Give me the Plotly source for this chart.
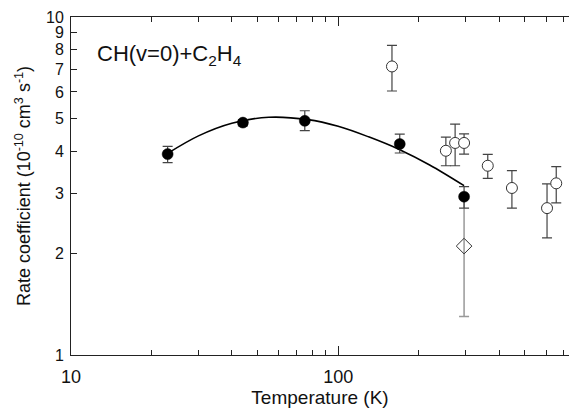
import plotly.graph_objects as go

# This work (filled circles)
t_this = [23, 44, 75, 170, 296]
k_this = [3.93, 4.87, 4.93, 4.21, 2.94]
k_this_hi = [4.14, 4.97, 5.28, 4.50, 3.15]
k_this_lo = [3.71, 4.76, 4.61, 3.96, 2.72]

# Literature (open circles)
t_lit = [159, 253, 274, 296, 363, 447, 605, 655]
k_lit = [7.14, 4.02, 4.24, 4.24, 3.63, 3.12, 2.72, 3.22]
k_lit_hi = [8.24, 4.41, 4.82, 4.51, 3.92, 3.51, 3.21, 3.61]
k_lit_lo = [6.04, 3.63, 3.63, 3.93, 3.33, 2.72, 2.22, 2.82]

# Diamond
t_dia = [296]
k_dia = [2.10]
k_dia_hi = [2.90]
k_dia_lo = [1.30]

# Fitted curve
t_fit = [23, 30, 40, 55, 77, 100, 130, 170, 220, 296]
k_fit = [3.95, 4.45, 4.85, 5.05, 4.97, 4.75, 4.42, 4.05, 3.65, 3.17]

y_ticks = [1, 2, 3, 4, 5, 6, 7, 8, 9, 10]
x_major = [10, 100]
x_minor = [20, 30, 40, 50, 60, 70, 80, 90, 200, 300, 400, 500, 600, 700]

FONT = "Liberation Sans, Arial, sans-serif"


def plus(v, hi):
    return [h - x for x, h in zip(v, hi)]


def minus(v, lo):
    return [x - l for x, l in zip(v, lo)]


fig = go.Figure()

fig.add_trace(go.Scatter(
    x=t_fit, y=k_fit, mode="lines", line=dict(color="black", width=1.6, shape="spline"),
    hoverinfo="skip", showlegend=False))

fig.add_trace(go.Scatter(
    x=t_dia, y=k_dia, mode="markers",
    marker=dict(symbol="diamond-open", size=12, color="#333", line=dict(width=1, color="#333")),
    error_y=dict(type="data", symmetric=False, array=plus(k_dia, k_dia_hi),
                 arrayminus=minus(k_dia, k_dia_lo), color="#999", thickness=1.5, width=5),
    showlegend=False))

fig.add_trace(go.Scatter(
    x=t_lit, y=k_lit, mode="markers",
    marker=dict(symbol="circle", size=11, color="white", line=dict(width=1, color="#333")),
    error_y=dict(type="data", symmetric=False, array=plus(k_lit, k_lit_hi),
                 arrayminus=minus(k_lit, k_lit_lo), color="#444", thickness=1.2, width=5),
    showlegend=False))

fig.add_trace(go.Scatter(
    x=t_this, y=k_this, mode="markers",
    marker=dict(symbol="circle", size=11, color="black", line=dict(width=0.5, color="black")),
    error_y=dict(type="data", symmetric=False, array=plus(k_this, k_this_hi),
                 arrayminus=minus(k_this, k_this_lo), color="#444", thickness=1.2, width=5),
    showlegend=False))

fig.add_annotation(
    x=0.048, y=0.888, xref="paper", yref="paper", xanchor="left", yanchor="middle",
    text="CH(v=0)+C<sub>2</sub>H<sub>4</sub>", showarrow=False,
    font=dict(family=FONT, size=22, color="#111"))

fig.update_xaxes(
    type="log", range=[1, 2.864],
    tickvals=x_major, ticktext=[str(v) for v in x_major],
    ticks="inside", ticklen=9, tickwidth=1, tickcolor="#222",
    minor=dict(tickvals=x_minor, ticks="inside", ticklen=5, tickwidth=1, tickcolor="#222"),
    showline=True, linecolor="#222", linewidth=1, mirror="ticks",
    showgrid=False, zeroline=False, ticklabelstandoff=5,
    tickfont=dict(family=FONT, size=18, color="#111"),
    title=dict(text="Temperature (K)", standoff=4,
               font=dict(family=FONT, size=19, color="#111")))

fig.update_yaxes(
    type="log", range=[0, 1],
    tickvals=y_ticks, ticktext=[str(v) for v in y_ticks],
    ticks="inside", ticklen=6, tickwidth=1, tickcolor="#222",
    showline=True, linecolor="#222", linewidth=1, mirror=False,
    showgrid=False, zeroline=False, ticklabelstandoff=3,
    tickfont=dict(family=FONT, size=16, color="#111"),
    title=dict(text="Rate coefficient (10<sup>-10</sup> cm<sup>3</sup> s<sup>-1</sup>)", standoff=10,
               font=dict(family=FONT, size=18, color="#111")))

fig.update_layout(
    width=569, height=409,
    margin=dict(l=71, r=0, t=17, b=54),
    paper_bgcolor="white", plot_bgcolor="white",
    showlegend=False)

fig.write_html("out.html")
